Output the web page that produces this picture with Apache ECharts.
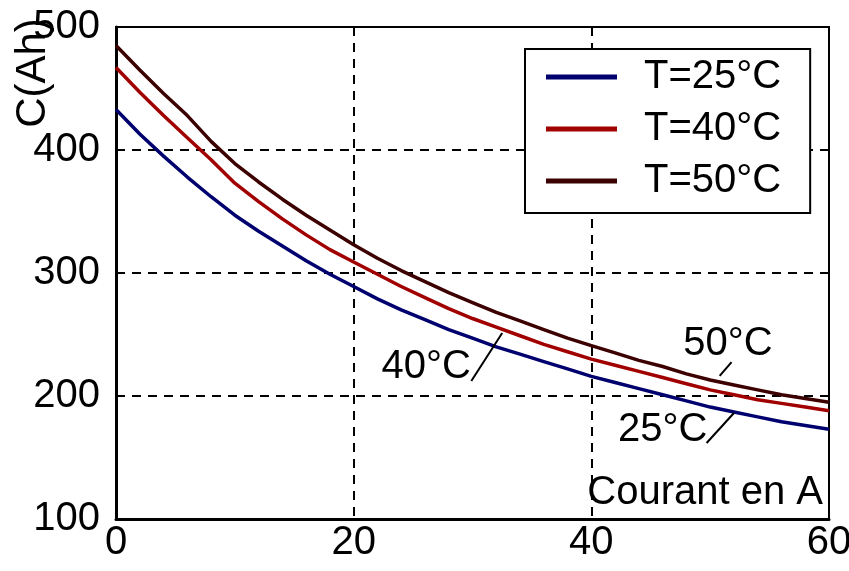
<!DOCTYPE html>
<html>
<head>
<meta charset="utf-8">
<script src="https://cdn.jsdelivr.net/npm/echarts@6/dist/echarts.min.js"></script>
<style>html,body{margin:0;padding:0;background:#fff;}#c{width:849px;height:571px;}</style>
</head>
<body>
<div id="c"></div>
<script>
// Data
const current = [0,2,4,6,8,10,12,14,16,18,20,22,24,26,28,30,32,34,36,38,40,42,44,46,48,50,52,54,56,58,60];
const cap25 = [433,413,395,378,362,347,334,322,310,299,289,279,270,262,254,247,240,234,228,222,216,211,206,201,196,191,187,183,179,176,173];
const cap40 = [467,447,428,410,392,373,358,344,331,319,309,299,289,280,271,263,256,249,242,236,230,225,220,215,210,205,201,197,194,191,188];
const cap50 = [485,465,446,428,407,389,374,360,347,335,323,312,302,293,284,276,268,261,254,247,241,235,229,224,218,213,209,205,201,198,195];
const seriesNames = ['T=25°C','T=40°C','T=50°C'];
const xTicks = {min:0, max:60, interval:20};
const yTicks = {min:100, max:500, interval:100};
// annotations: [label, textX, textY, slashFrom, slashTo] in data coordinates
const annotations = [
  ['40°C', 26.1, 223.6, [29.9,212.2], [32.5,251.2]],
  ['50°C', 51.5, 242.0, [50.8,216.3], [51.8,227.6]],
  ['25°C', 46.0, 172.4, [49.7,161.8], [52.0,186.2]]
];
const xName = 'Courant en A';
const yName = 'C(Ah)';

const FONT = '"Liberation Sans", Arial, sans-serif';
const colors = ['#00006e','#a00000','#3c0000'];
const chart = echarts.init(document.getElementById('c'), null, {renderer:'canvas'});
const mk = (vals) => current.map((x,i)=>[x, vals[i]]);
const dashed = {show:true, lineStyle:{color:'#000', type:[9,7], width:2}};
chart.setOption({
  animation:false,
  backgroundColor:'#fff',
  grid:{left:116, right:20, top:27, bottom:52, outerBoundsMode:'none', containLabel:false,
    show:true, borderColor:'#000', borderWidth:2, backgroundColor:'transparent'},
  xAxis:{type:'value', min:xTicks.min, max:xTicks.max, interval:xTicks.interval,
    axisLine:{show:true, onZero:false, lineStyle:{color:'#000', width:3}},
    axisTick:{show:false},
    axisLabel:{color:'#000', fontSize:40, fontFamily:FONT, margin:4},
    splitLine:dashed},
  yAxis:{type:'value', min:yTicks.min, max:yTicks.max, interval:yTicks.interval,
    axisLine:{show:true, onZero:false, lineStyle:{color:'#000', width:3}},
    axisTick:{show:false},
    axisLabel:{color:'#000', fontSize:40, fontFamily:FONT, margin:16},
    splitLine:dashed},
  legend:{orient:'vertical', left:525, top:49, padding:[8,29,12,21],
    borderColor:'#000', borderWidth:2, backgroundColor:'#fff',
    icon:'rect', itemWidth:71, itemHeight:5, itemGap:12,
    textStyle:{color:'#000', fontSize:40, fontFamily:FONT, lineHeight:40, padding:[0,0,0,22]},
    data:seriesNames},
  series:[cap25,cap40,cap50].map((v,i)=>({
    name:seriesNames[i], type:'line', data:mk(v), showSymbol:false, symbol:'none',
    lineStyle:{color:colors[i], width:3.5}, itemStyle:{color:colors[i]}, z:3
  }))
});
const px = (p)=>chart.convertToPixel({gridIndex:0}, p);
const g = [];
annotations.forEach(a=>{
  const t = px([a[1],a[2]]);
  g.push({type:'text', x:t[0], y:t[1], z:10, style:{text:a[0], fill:'#000', font:'40px '+FONT, textAlign:'center', textVerticalAlign:'middle'}});
  const p1 = px(a[3]), p2 = px(a[4]);
  g.push({type:'line', z:10, shape:{x1:p1[0], y1:p1[1], x2:p2[0], y2:p2[1]}, style:{stroke:'#000', lineWidth:2}});
});
const corner = px([xTicks.max, yTicks.min]);
g.push({type:'text', x:corner[0]-6, y:corner[1]-26, z:10, style:{text:xName, fill:'#000', font:'40px '+FONT, textAlign:'right', textVerticalAlign:'middle'}});
g.push({type:'text', x:33, y:73, rotation:Math.PI/2, z:10, style:{text:yName, fill:'#000', font:'42px '+FONT, textAlign:'center', textVerticalAlign:'middle'}});
chart.setOption({graphic:g});
</script>
</body>
</html>
